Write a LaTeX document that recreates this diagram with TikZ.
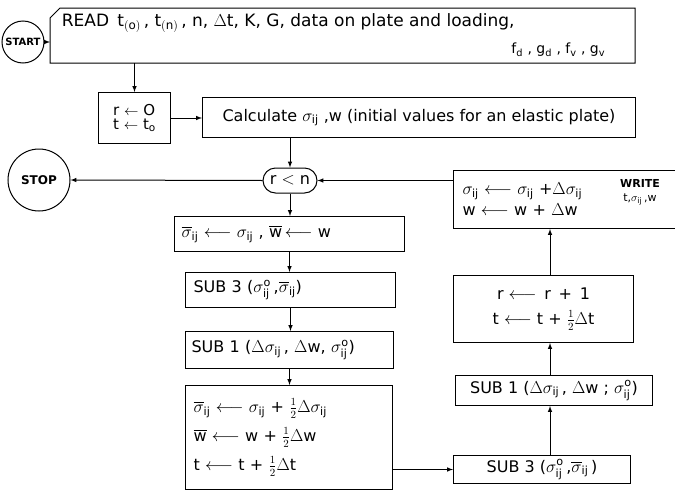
\documentclass[tikz,border=0pt]{standalone}
\usepackage{amsmath}
\usepackage{fontspec}
\setmainfont{DejaVu Sans}
\usetikzlibrary{shapes.misc}

\begin{document}
\begin{tikzpicture}[x=1pt,y=-1pt,>=latex,line width=1pt,
  box/.style={draw,rectangle,anchor=north west,inner xsep=8pt,inner ysep=0pt,font=\fontsize{16}{19}\selectfont},
  term/.style={draw,circle,inner sep=0pt,font=\bfseries\fontsize{10}{12}\selectfont}]
\newcommand{\sij}{\ensuremath{\sigma_{\mathrm{ij}}}}
\newcommand{\sbij}{\ensuremath{\overline{\sigma}_{\mathrm{ij}}}}
\newcommand{\soij}{\ensuremath{\sigma^{\mathrm{o}}_{\mathrm{ij}}}}
\newcommand{\wbar}{\ensuremath{\overline{\mathrm{w}}}}
\newcommand{\lto}{\ensuremath{\longleftarrow}}
\newcommand{\hlf}{\ensuremath{\tfrac{1}{2}}}
\useasboundingbox (0,0) rectangle (675,493);
\coordinate (rx) at (550,0);
  %%%%%%%%%%%%%%%% top: start, read, initial values
  \node[term,minimum size=42] (start) at (23,42) {START};
  \node[box,draw=none,minimum width=584,minimum height=54] (read) at (50,8) {};
  \draw ([yshift=-10pt]read.north west) -- ([xshift=10pt]read.north west) -- (read.north east)
    -- (read.south east) -- (read.south west) -- cycle;
  \node[anchor=west,font=\fontsize{17}{20}\selectfont] (readtxt) at (58,23)
    {READ\, t$_{\mathrm{(o)}}$\,, t$_{\mathrm{(n)}}$\,, n, $\Delta$t, K, G, data on plate and loading,};
  \node[anchor=east,font=\fontsize{14}{16}\selectfont] (readfg) at (609,50)
    {f$_{\mathrm d}$ , g$_{\mathrm d}$ , f$_{\mathrm v}$ , g$_{\mathrm v}$};
  \node[box,minimum width=72,minimum height=51,inner xsep=6pt,align=left,font=\fontsize{15}{17}\selectfont] (init) at (98,92)
    {r $\leftarrow$ O\\[-3pt] t $\leftarrow$ t$_{\mathrm o}$};
  \node[box,minimum width=433,minimum height=40] (calc) at (202,97)
    {Calculate \sij\ ,w (initial values for an elastic plate)};
  %%%%%%%%%%%%%%%% loop test
  \node[box,rounded rectangle,anchor=center,minimum width=70,minimum height=25] (cond) at (290,180.5) {r $<$ n};
  \node[term,minimum size=62,font=\bfseries\fontsize{12}{14}\selectfont] (stop) at (39,180) {STOP};
  %%%%%%%%%%%%%%%% left column
  \node[box,minimum height=35,text width=216,align=left,inner xsep=7pt] (bar) at (174,216)
    {\sbij\ \lto\ \sij\ , \wbar\,\lto\ w};
  \node[box,minimum height=35,text width=194,align=left] (sub3a) at (185,272)
    {SUB 3 (\soij\,,\sbij)};
  \node[box,minimum height=37,text width=196,align=left,inner xsep=6pt] (sub1a) at (185,331)
    {SUB 1 ($\Delta$\sij\,, $\Delta$w, \soij)};
  \node[box,minimum height=104,text width=191,align=left] (big) at (185,385)
    {\sbij\ \lto\ \sij\ + \hlf$\Delta$\sij\\[8pt]
     \wbar\ \lto\ w + \hlf$\Delta$w\\[8pt]
     t \lto\ t + \hlf$\Delta$t};
  %%%%%%%%%%%%%%%% right column
  \node[box,minimum width=177,minimum height=28] (sub3b) at (453,455) {SUB 3 (\soij\,,\sbij\,)};
  \node[box,minimum width=197,minimum height=30,inner xsep=4pt] (sub1b) at (455,375) {SUB 1 ($\Delta$\sij\,, $\Delta$w ; \soij)};
  \node[box,minimum width=180,minimum height=67,align=center] (rinc) at (453,275)
    {r \lto\ \,r \,+\, 1\\[6pt] t \lto\ t + \hlf$\Delta$t};
  \node[box,minimum height=58,text width=214,align=left,inner xsep=9pt] (upd) at (453,170)
    {\sij\ \lto\ \sij\ +$\Delta$\sij\\[2pt] w \lto\ w + $\Delta$w};
  \node[align=center,inner sep=0pt,font=\fontsize{11}{14}\selectfont] (wrlbl) at (640,192)
    {\textbf{WRITE}\\t,\sij\,,w};
  %%%%%%%%%%%%%%%% connectors
  \draw[->] (start.east) -- (start.east -| read.west);
  \draw[->] (read.south -| init) -- (init.north);
  \draw[->] (init.east) -- (init.east -| calc.west);
  \draw[->] (calc.south -| cond) -- (cond.north);
  \draw[->] (cond.west) -- (stop.east);
  \draw[->] (cond.east -| upd.west) -- (cond.east);
  \foreach \a/\b in {cond/bar,bar/sub3a,sub3a/sub1a,sub1a/big}
    \draw[->] (\a.south) -- (\a.south |- \b.north);
  \draw[->] (big.east |- sub3b.west) -- (sub3b.west);
  \foreach \a/\b in {sub3b/sub1b,sub1b/rinc,rinc/upd}
    \draw[->] (\a.north -| rx) -- (\b.south -| rx);
\end{tikzpicture}
\end{document}
